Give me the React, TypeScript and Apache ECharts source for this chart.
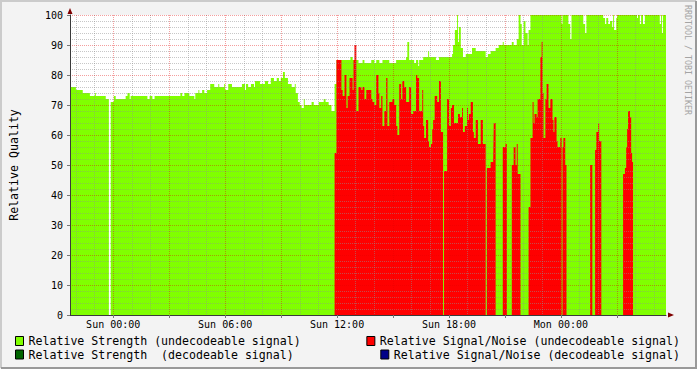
import React, { useEffect, useRef } from 'react';
import * as echarts from 'echarts';

// time axis: minutes relative to Sun 00:00
const X_MIN = -139;
const X_MAX = 1778;

const majorGridMinutes = [0, 180, 360, 540, 720, 900, 1080, 1260, 1440, 1620];
const minorGridMinutes = [-120, -60, 60, 120, 240, 300, 420, 480, 600, 660, 780, 840, 960, 1020, 1140, 1200, 1320, 1380, 1500, 1560, 1680, 1740];
const xLabelMinutes = [0, 360, 720, 1080, 1440];
const xLabelTexts = ['Sun 00:00', 'Sun 06:00', 'Sun 12:00', 'Sun 18:00', 'Mon 00:00'];

const seriesNames = [
  'Relative Strength (undecodeable signal)',
  'Relative Strength  (decodeable signal)',
  'Relative Signal/Noise (undecodeable signal)',
  'Relative Signal/Noise (decodeable signal)',
];
const seriesColors = ['#80FF00', '#006400', '#FF0000', '#000088'];

// [start minute, value] runs
const strengthUndecodeable: number[][] = [
  [-139, 76], [-120, 75], [-98, 74], [-75, 73], [-59, 74], [-56, 73], [-24, 72], [-14, 0], [-8, 71], [2, 73],
  [8, 72], [40, 73], [46, 74], [53, 72], [56, 73], [110, 72], [117, 73], [126, 72], [133, 73], [216, 74],
  [222, 73], [229, 74], [245, 73], [261, 72], [264, 74], [274, 75], [277, 74], [286, 75], [293, 74], [302, 75],
  [312, 77], [325, 76], [338, 77], [341, 76], [357, 77], [360, 75], [370, 77], [382, 76], [414, 77], [424, 75],
  [427, 77], [434, 76], [443, 77], [453, 76], [456, 78], [472, 77], [488, 78], [498, 77], [507, 79], [517, 78],
  [526, 79], [533, 78], [539, 79], [546, 81], [552, 79], [562, 77], [574, 76], [584, 77], [587, 74], [594, 71],
  [600, 70], [606, 69], [613, 72], [616, 70], [638, 71], [645, 70], [661, 71], [677, 72], [683, 71], [693, 70],
  [702, 68], [712, 77], [718, 85], [763, 86], [770, 85], [789, 84], [802, 85], [808, 84], [830, 85], [840, 84],
  [846, 85], [856, 84], [866, 85], [888, 84], [910, 85], [942, 86], [946, 91], [952, 85], [968, 84], [974, 85],
  [981, 83], [984, 85], [997, 86], [1013, 88], [1016, 86], [1038, 85], [1048, 86], [1090, 87], [1093, 90], [1099, 95],
  [1106, 100], [1109, 91], [1112, 96], [1118, 89], [1125, 86], [1134, 87], [1154, 89], [1166, 88], [1198, 86], [1205, 87],
  [1214, 88], [1230, 89], [1240, 90], [1253, 91], [1256, 90], [1282, 91], [1288, 90], [1298, 92], [1304, 100], [1310, 97],
  [1314, 90], [1320, 98], [1326, 94], [1333, 90], [1336, 95], [1342, 100], [1442, 97], [1445, 100], [1464, 97], [1470, 92],
  [1474, 100], [1512, 97], [1518, 94], [1522, 100], [1576, 99], [1582, 97], [1586, 99], [1592, 97], [1598, 98], [1605, 96],
  [1608, 100], [1611, 95], [1618, 99], [1621, 100], [1685, 99], [1688, 100], [1694, 97], [1698, 100], [1704, 97], [1710, 100],
  [1758, 97], [1762, 100], [1765, 94], [1768, 100],
];

const strengthDecodeable: number[][] = [];

const signalNoiseUndecodeable: number[][] = [
  [712, 54], [718, 85], [734, 75], [738, 73], [744, 80], [750, 69], [754, 73], [760, 79], [770, 75], [773, 85],
  [776, 90], [782, 68], [789, 76], [798, 75], [802, 76], [808, 72], [814, 75], [830, 72], [834, 71], [840, 70],
  [846, 80], [853, 74], [856, 69], [862, 73], [866, 63], [872, 68], [878, 79], [882, 63], [888, 71], [898, 72],
  [904, 70], [910, 63], [914, 60], [920, 77], [926, 72], [930, 78], [936, 76], [942, 71], [952, 76], [958, 67],
  [965, 68], [974, 80], [978, 79], [984, 68], [994, 75], [997, 63], [1000, 59], [1006, 65], [1013, 58], [1016, 56],
  [1022, 57], [1026, 62], [1029, 65], [1034, 73], [1042, 71], [1048, 78], [1054, 61], [1061, 0], [1064, 48], [1074, 72],
  [1080, 63], [1086, 69], [1090, 70], [1096, 64], [1109, 67], [1115, 66], [1122, 69], [1125, 61], [1131, 63], [1138, 69],
  [1141, 65], [1144, 67], [1150, 71], [1157, 61], [1160, 59], [1166, 65], [1173, 57], [1182, 65], [1189, 57], [1198, 0],
  [1202, 49], [1214, 51], [1222, 50], [1224, 64], [1230, 0], [1253, 56], [1262, 57], [1266, 0], [1282, 50], [1288, 56],
  [1294, 50], [1298, 57], [1301, 47], [1310, 0], [1336, 36], [1342, 59], [1349, 71], [1352, 64], [1355, 67], [1362, 66],
  [1365, 72], [1374, 86], [1378, 91], [1381, 74], [1384, 59], [1390, 72], [1394, 77], [1400, 69], [1406, 72], [1413, 65],
  [1416, 61], [1419, 66], [1426, 58], [1429, 56], [1438, 59], [1442, 0], [1445, 56], [1448, 59], [1454, 50], [1458, 0],
  [1534, 50], [1541, 0], [1550, 55], [1554, 61], [1560, 64], [1563, 58], [1570, 0], [1640, 47], [1646, 49], [1650, 56],
  [1653, 62], [1656, 68], [1662, 66], [1666, 54], [1669, 51], [1672, 0],
];

const signalNoiseDecodeable: number[][] = [];

const FONT = 'DejaVu Sans Mono';

function withEnd(runs: number[][]): number[][] {
  if (!runs.length) return [];
  return [...runs, [X_MAX, runs[runs.length - 1][1]]];
}

function areaSeries(idx: number, runs: number[][], z: number) {
  return {
    name: seriesNames[idx],
    type: 'line',
    step: 'end',
    data: withEnd(runs),
    symbol: 'none',
    showSymbol: false,
    color: seriesColors[idx],
    lineStyle: { width: 0, color: seriesColors[idx] },
    areaStyle: { color: seriesColors[idx], opacity: 1 },
    silent: true,
    z,
  };
}

function legendFor(idx: number, pos: Record<string, number>) {
  return {
    ...pos,
    orient: 'horizontal',
    padding: 0,
    data: [seriesNames[idx]],
    icon: 'rect',
    itemWidth: 8,
    itemHeight: 9,
    selectedMode: false,
    itemStyle: { borderColor: '#000', borderWidth: 1 },
    textStyle: { fontFamily: FONT, fontSize: 11.6, color: '#000', lineHeight: 13 },
  };
}

const gridGray = 'rgba(143,143,143,0.5)';
const gridRed = 'rgba(225,0,0,0.38)';

export default function App() {
  const ref = useRef<HTMLDivElement>(null);
  useEffect(() => {
    const chart = echarts.init(ref.current!, null, { renderer: 'svg' });
    const option: any = {
      animation: false,
      backgroundColor: '#F3F3F3',
      grid: { left: 67, right: 31, top: 15, bottom: 54, show: true, backgroundColor: '#FFFFFF', borderWidth: 0 },
      xAxis: [
        {
          type: 'value', min: X_MIN, max: X_MAX, position: 'bottom', z: 5,
          axisLine: { show: true, onZero: false, lineStyle: { color: '#3a3a3a', width: 1 } },
          axisTick: { show: true, length: 3, customValues: majorGridMinutes, lineStyle: { color: '#777' } },
          axisLabel: {
            show: true, customValues: xLabelMinutes, margin: 4,
            fontFamily: FONT, fontSize: 10, color: '#000',
            formatter: (v: number) => xLabelTexts[xLabelMinutes.indexOf(v)] ?? '',
          },
          splitLine: { show: true, lineStyle: { color: gridRed, width: 1, type: [1, 1] } },
        },
        {
          type: 'value', min: X_MIN, max: X_MAX, position: 'bottom', z: 4,
          axisLine: {
            show: true, onZero: false, symbol: ['none', 'triangle'], symbolSize: [5, 6], symbolOffset: [0, 5],
            lineStyle: { color: '#7F0000', width: 0 },
          },
          axisTick: { show: false, customValues: minorGridMinutes },
          axisLabel: { show: false },
          splitLine: { show: true, lineStyle: { color: gridGray, width: 1, type: [1, 1] } },
        },
      ],
      yAxis: [
        {
          type: 'value', min: 0, max: 100, interval: 10, position: 'left', z: 5,
          name: 'Relative Quality', nameLocation: 'middle', nameGap: 50,
          nameTextStyle: { fontFamily: FONT, fontSize: 11.6, color: '#000' },
          axisLine: { show: true, onZero: false, lineStyle: { color: '#3a3a3a', width: 1 } },
          axisTick: { show: true, length: 3, lineStyle: { color: '#777' } },
          axisLabel: { margin: 7, fontFamily: FONT, fontSize: 10, color: '#000' },
          splitLine: { show: true, lineStyle: { color: gridRed, width: 1, type: [1, 1] } },
          minorTick: { show: false, splitNumber: 5 },
          minorSplitLine: { show: true, lineStyle: { color: gridGray, width: 1, type: [1, 1] } },
        },
        {
          type: 'value', min: 0, max: 100, interval: 10, position: 'left', z: 4,
          axisLine: {
            show: true, onZero: false, symbol: ['none', 'triangle'], symbolSize: [5, 6], symbolOffset: [0, 4],
            lineStyle: { color: '#7F0000', width: 0 },
          },
          axisTick: { show: false },
          axisLabel: { show: false },
          splitLine: { show: false },
        },
      ],
      legend: [
        legendFor(0, { left: 15, top: 334.5 }),
        legendFor(1, { left: 15, top: 348 }),
        legendFor(2, { right: 17, top: 334.5 }),
        legendFor(3, { right: 17, top: 348 }),
      ],
      series: [
        areaSeries(0, strengthUndecodeable, 2),
        areaSeries(1, strengthDecodeable, 2),
        areaSeries(2, signalNoiseUndecodeable, 3),
        areaSeries(3, signalNoiseDecodeable, 3),
      ],
      graphic: [
        { type: 'polyline', silent: true, shape: { points: [[1, 368], [1, 1], [696, 1]] }, style: { stroke: '#CBCBCB', lineWidth: 2, fill: null } },
        { type: 'polyline', silent: true, shape: { points: [[1, 368], [696, 368], [696, 1]] }, style: { stroke: '#999999', lineWidth: 2, fill: null } },
        {
          type: 'text', silent: true, x: 688, y: 60, rotation: -Math.PI / 2,
          style: { text: 'RRDTOOL / TOBI OETIKER', fontFamily: FONT, fontSize: 8.3, fill: '#a4a4a4', align: 'center', verticalAlign: 'middle' },
        },
      ],
    };
    chart.setOption(option);
    return () => chart.dispose();
  }, []);
  return <div ref={ref} style={{ position: 'absolute', left: 0, top: 0, width: 697, height: 369 }} />;
}
